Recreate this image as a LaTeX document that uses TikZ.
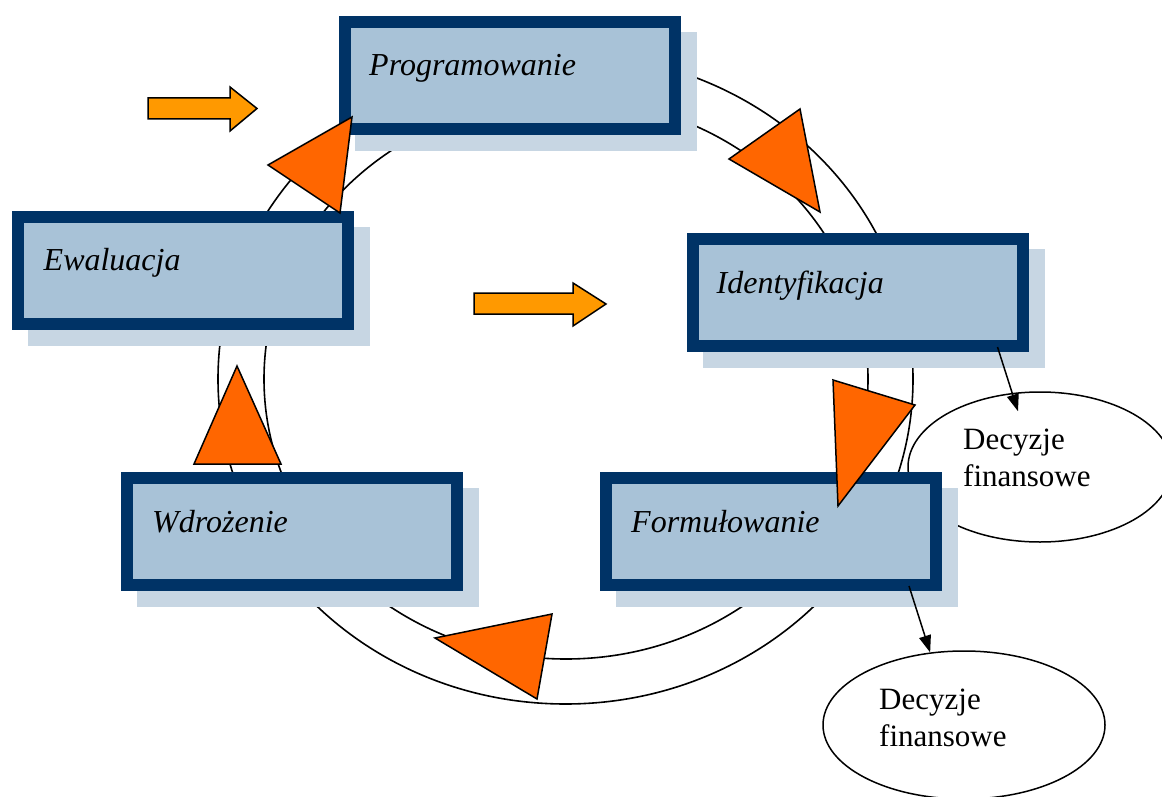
\documentclass[tikz,border=0pt]{standalone}
\usepackage{fontspec}
\setmainfont{Liberation Serif}
\usetikzlibrary{shapes.geometric,arrows.meta,calc}
\definecolor{navy}{HTML}{003366}
\definecolor{boxfill}{HTML}{A8C2D7}
\definecolor{shadowc}{HTML}{C7D6E3}
\definecolor{triorange}{HTML}{FF6600}
\definecolor{arrorange}{HTML}{FF9900}
\tikzset{
  box/.style={draw=navy, fill=boxfill, line width=12pt, minimum width=330pt, minimum height=107pt,
    inner sep=0pt, outer sep=0pt,
    preaction={fill=shadowc, draw=shadowc, line width=12pt, transform canvas={xshift=16pt, yshift=-16pt}}},
  lbl/.style={anchor=base west, inner sep=0pt, font=\fontsize{32}{38}\selectfont\itshape},
  ring/.style={draw=black, line width=1.6pt},
  tri/.style={fill=triorange, draw=black, line width=1.5pt, line join=miter},
  blockarrow/.style={fill=arrorange, draw=black, line width=1.5pt},
  dec/.style={ellipse, draw=black, line width=1.5pt, inner sep=0pt},
  dtxt/.style={anchor=west, inner sep=0pt, align=left, font=\fontsize{31}{37}\selectfont},
  conn/.style={draw=black, line width=1.5pt, -{Triangle[length=17pt,width=12pt]}}
}
\begin{document}
\begin{tikzpicture}[x=1pt, y=-1pt]
\useasboundingbox (0,0) rectangle (1162,797);
% rings
\draw[ring] (565.5,379) ellipse [x radius=347.5pt, y radius=325pt];
\draw[ring] (566,379) ellipse [x radius=302pt, y radius=280pt];
% decision ellipses
\node[dec, minimum width=264pt, minimum height=150pt] (dec1) at (1040,467) {};
\node[dec, minimum width=282pt, minimum height=148pt] (dec2) at (964,725) {};
% boxes
\node[box] (prog) at (509.5,75.5) {};
\node[box] (ewal) at (183,270.5) {};
\node[box] (ident) at (857.5,292.5) {};
\node[box] (wdro) at (292,531.5) {};
\node[box] (form) at (771,531.5) {};
\node[lbl] (progt) at ($(prog.north west)+(24.5,54)$) {Programowanie};
\node[lbl] (ewalt) at ($(ewal.north west)+(25.5,53.5)$) {Ewaluacja};
\node[lbl] (identt) at ($(ident.north west)+(24,54)$) {Identyfikacja};
\node[lbl] (wdrot) at ($(wdro.north west)+(25,54)$) {Wdrożenie};
\node[lbl] (formt) at ($(form.north west)+(25,54)$) {Formułowanie};
% triangles
\filldraw[tri] (352,117) -- (268,165) -- (340,213) -- cycle;
\filldraw[tri] (800,109) -- (729,159) -- (820,212) -- cycle;
\filldraw[tri] (833,380) -- (915,405) -- (838,506) -- cycle;
\filldraw[tri] (435,638) -- (552,614) -- (537,699) -- cycle;
\filldraw[tri] (237,366) -- (194,464) -- (281,464) -- cycle;
% block arrows
\filldraw[blockarrow] (148,98) -- (230,98) -- (230,87) -- (257,108.5) -- (230,131) -- (230,119) -- (148,119) -- cycle;
\filldraw[blockarrow] (474,293) -- (573,293) -- (573,283) -- (606,304) -- (573,326) -- (573,314) -- (474,314) -- cycle;
% connectors
\draw[conn] ($(ident.south east)+(-25,1)$) -- ($(dec1.north)+(-22,20)$);
\draw[conn] ($(form.south east)+(-27,1)$) -- (dec2.115);
% texts
\node[dtxt] (dec1t) at (963,458) {Decyzje\\finansowe};
\node[dtxt] (dec2t) at (879,718) {Decyzje\\finansowe};
\end{tikzpicture}
\end{document}
